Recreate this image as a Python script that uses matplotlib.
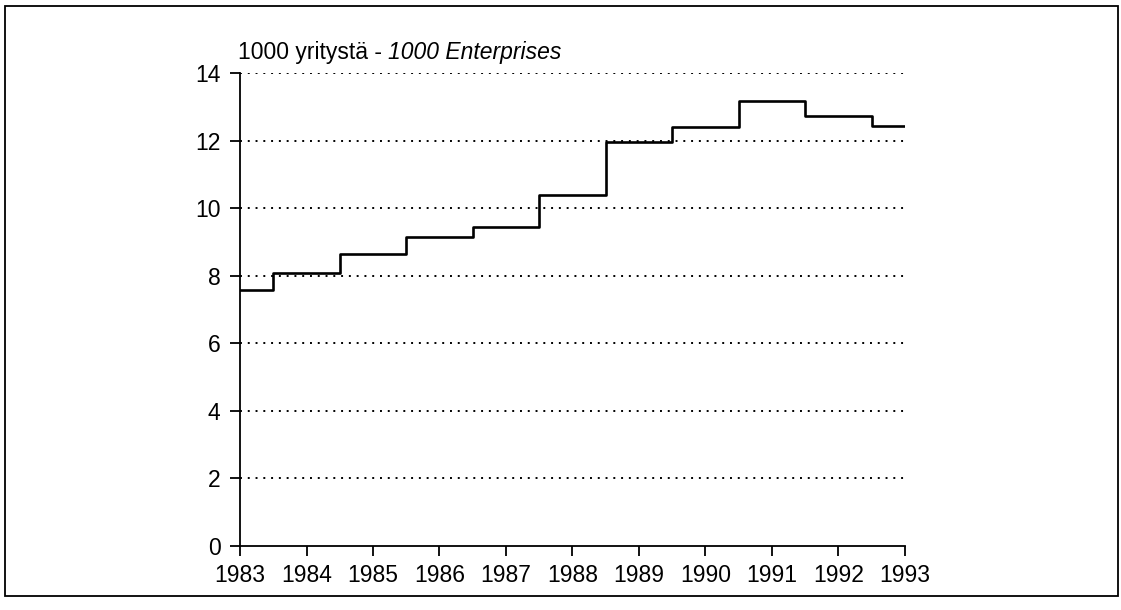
import numpy as np
import matplotlib
matplotlib.use("Agg")
import matplotlib.pyplot as plt
from matplotlib.patches import Rectangle

# Enterprises (thousands), one value per year, drawn as mid-steps
years = [1983, 1984, 1985, 1986, 1987, 1988, 1989, 1990, 1991, 1992, 1993]
values = [7.59, 8.09, 8.64, 9.15, 9.44, 10.40, 11.96, 12.42, 13.17, 12.75, 12.43]
yticks = [0, 2, 4, 6, 8, 10, 12, 14]

plt.rcParams['font.family'] = ['Liberation Sans', 'DejaVu Sans']

fig = plt.figure(figsize=(11.21, 6.10), dpi=100)
ax = fig.add_axes([0.2141, 0.1049, 0.8073 - 0.2141, 0.8798 - 0.1049])

# outer frame around the whole chart
fig.patches.append(Rectangle((0.0045, 0.023), 0.9928, 0.967, transform=fig.transFigure,
                             fill=False, edgecolor='black', linewidth=1.3))

# dotted grid lines
for v in yticks[1:]:
    ax.axhline(v, color='black', linewidth=1.4, linestyle=(0, (1, 3)), zorder=1)

ax.step(years, values, where='mid', color='black', linewidth=1.9, zorder=3)

ax.set_xlim(1983, 1993)
ax.set_ylim(0, 14)
ax.set_xticks(years)
ax.set_yticks(yticks)
for s in ['top', 'right']:
    ax.spines[s].set_visible(False)
for s in ['left', 'bottom']:
    ax.spines[s].set_linewidth(1.3)
ax.tick_params(axis='both', direction='out', length=7, width=1.3, labelsize=16.5)
ax.tick_params(axis='y', pad=7)
ax.tick_params(axis='x', pad=6)

t1 = fig.text(0.2123, 0.904, '1000 yritystä - ', fontsize=16.5, va='baseline', ha='left')
ax.annotate('1000 Enterprises', xy=(1, 0), xycoords=t1, va='bottom', ha='left',
            fontsize=16.5, style='italic')

fig.savefig('out.png', dpi=100)
